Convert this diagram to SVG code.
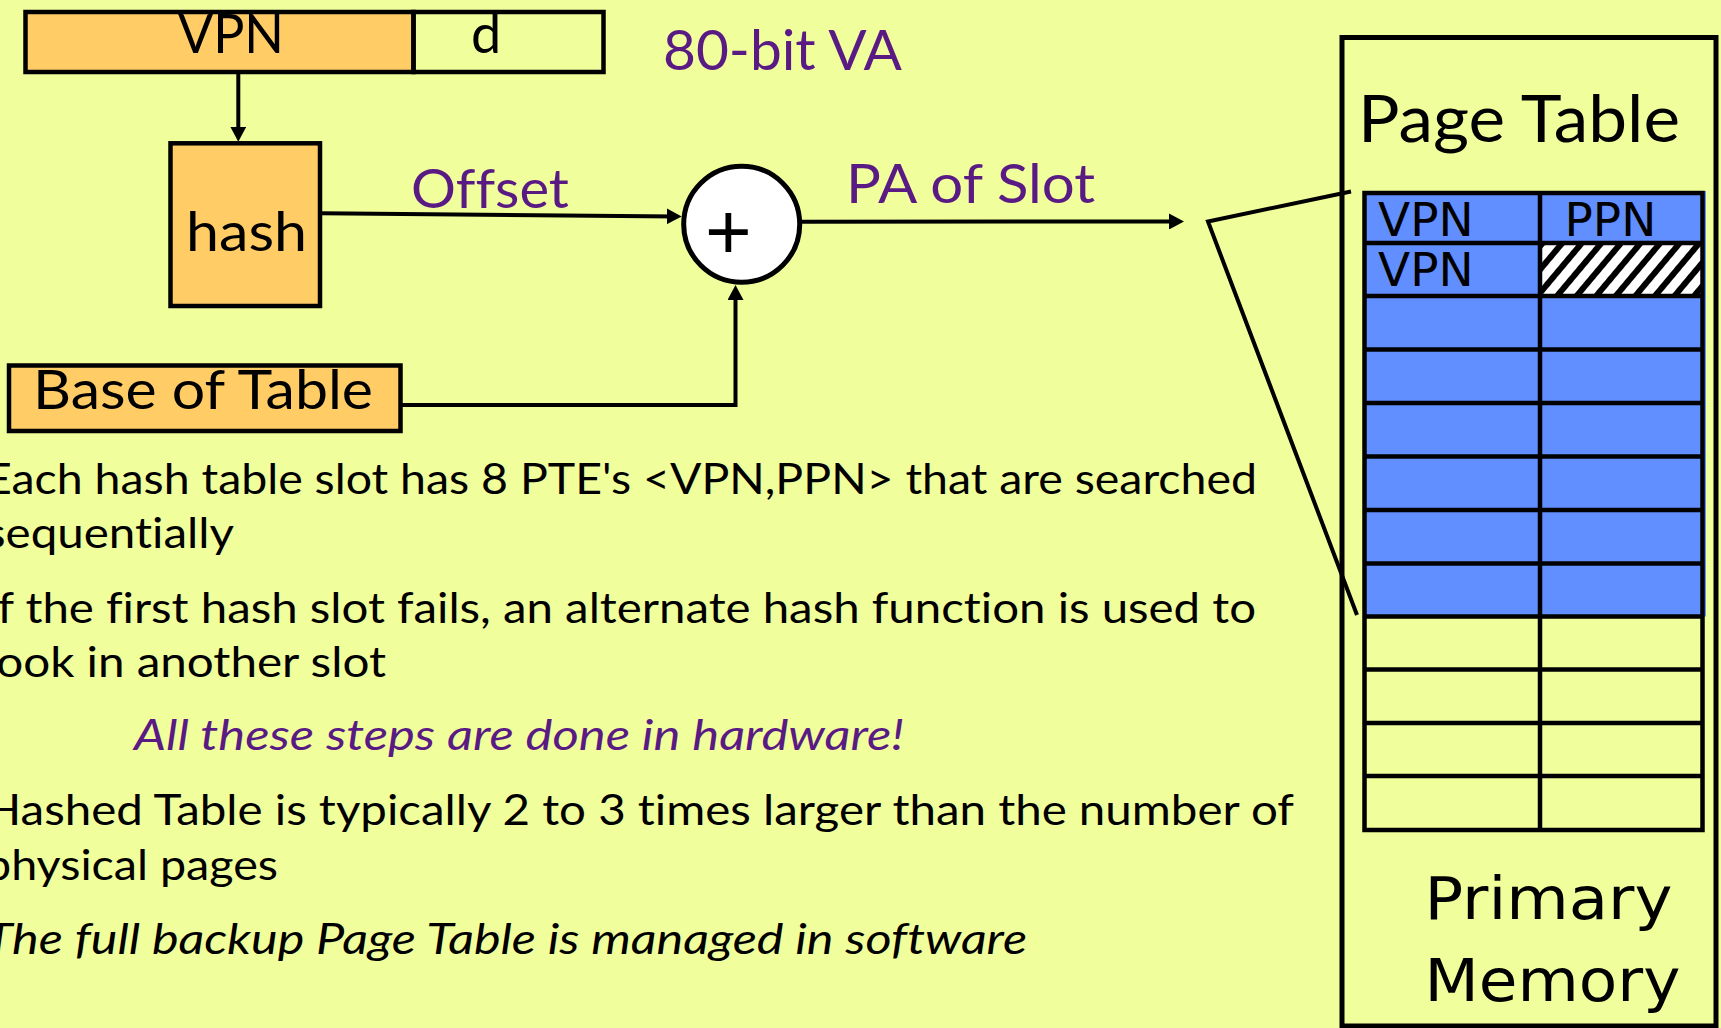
<svg xmlns="http://www.w3.org/2000/svg" width="1721" height="1028" viewBox="0 0 1721 1028">
  <style>
    text { font-variant-ligatures: none; font-feature-settings: "liga" 0, "clig" 0, "dlig" 0; }
    .box { stroke: #000; stroke-width: 4.5; }
    .line { fill: none; stroke: #000; stroke-width: 4; }
    .grid { fill: none; stroke: #000; stroke-width: 4.5; }
    .cal { font-family: Lato, "Open Sans", "Liberation Sans", sans-serif; fill: #000; }
    .body { font-family: Lato, "Open Sans", "Liberation Sans", sans-serif; font-size: 42px; fill: #000; }
    .ver { font-family: "DejaVu Sans", Verdana, sans-serif; fill: #000; }
    .purple { fill: #5A1A84; }
    .ital { font-style: italic; }
  </style>
  <defs>
    <marker id="arrow" markerUnits="userSpaceOnUse" markerWidth="15" markerHeight="16" refX="9" refY="8" orient="auto">
      <path d="M0,0 L15,8 L0,16 z" fill="#000"/>
    </marker>
    <pattern id="hatch" patternUnits="userSpaceOnUse" width="15" height="15" patternTransform="rotate(40)">
      <rect x="0" y="0" width="15" height="15" fill="#fff"/>
      <rect x="0" y="0" width="6" height="15" fill="#000"/>
    </pattern>
  </defs>

  <!-- slide background -->
  <rect x="0" y="0" width="1721" height="1028" fill="#F0FE9C"/>

  <!-- virtual address: VPN | d -->
  <g id="virtual-address">
    <rect class="box" x="25.5" y="12" width="388" height="60" fill="#FFCC66"/>
    <rect class="box" x="413.5" y="12" width="190" height="60" fill="none"/>
    <text class="cal" x="178" y="53.3" font-size="54" textLength="106" lengthAdjust="spacingAndGlyphs">VPN</text>
    <text class="cal" x="471" y="53.3" font-size="54">d</text>
    <text class="cal purple" x="663" y="70" font-size="56" textLength="239" lengthAdjust="spacingAndGlyphs">80-bit VA</text>
  </g>

  <!-- hash function -->
  <g id="hash">
    <rect class="box" x="170.5" y="143.3" width="149.5" height="162.7" fill="#FFCC66"/>
    <text class="cal" x="186" y="250.7" font-size="55" textLength="121" lengthAdjust="spacingAndGlyphs">hash</text>
  </g>

  <!-- base register -->
  <g id="base-of-table">
    <rect class="box" x="9" y="365.5" width="391.5" height="65.5" fill="#FFCC66"/>
    <text class="cal" x="33" y="409.3" font-size="54" textLength="340" lengthAdjust="spacingAndGlyphs">Base of Table</text>
  </g>

  <!-- adder -->
  <g id="adder">
    <circle cx="741.7" cy="224.2" r="58" fill="#fff" stroke="#000" stroke-width="5"/>
    <text x="728.3" y="259" font-family="'Liberation Sans', Arial, sans-serif" font-size="80" text-anchor="middle" fill="#000">+</text>
  </g>

  <!-- connectors -->
  <g id="connectors">
    <path class="line" d="M238.3,72 V135.7" marker-end="url(#arrow)"/>
    <path class="line" d="M321,213.3 L675.7,216.4" marker-end="url(#arrow)"/>
    <path class="line" d="M400.5,405 H735.5 V291" marker-end="url(#arrow)"/>
    <path class="line" d="M800,221.7 L1178,221.5" marker-end="url(#arrow)"/>
    <polyline class="line" stroke-width="4.5" points="1351,191.5 1208,221.5 1357,615"/>
  </g>

  <!-- connector labels -->
  <g id="labels">
    <text class="cal purple" x="411" y="208.3" font-size="54" textLength="158" lengthAdjust="spacingAndGlyphs">Offset</text>
    <text class="cal purple" x="846" y="203.3" font-size="55" textLength="249" lengthAdjust="spacingAndGlyphs">PA of Slot</text>
  </g>

  <!-- primary memory holding the hashed page table -->
  <g id="primary-memory">
    <rect x="1342" y="37.5" width="374" height="988.5" fill="none" stroke="#000" stroke-width="5"/>
    <text class="cal" x="1358" y="141.7" font-size="65" textLength="322" lengthAdjust="spacingAndGlyphs">Page Table</text>
    <text class="ver" x="1424.5" y="919" font-size="58" textLength="248" lengthAdjust="spacingAndGlyphs">Primary</text>
    <text class="ver" x="1424.5" y="1001" font-size="58" textLength="256" lengthAdjust="spacingAndGlyphs">Memory</text>
  </g>

  <g id="page-table">
    <!-- the eight PTEs of the selected slot -->
    <rect x="1364.5" y="191" width="341.5" height="425.5" fill="#628FFF"/>
    <rect x="1540" y="243" width="162.5" height="53" fill="url(#hatch)"/>
    <g class="grid">
      <rect x="1364.5" y="193" width="338" height="637"/>
      <line x1="1540" y1="193" x2="1540" y2="830"/>
      <line x1="1364.5" y1="243" x2="1702.5" y2="243"/>
      <line x1="1364.5" y1="296" x2="1702.5" y2="296"/>
      <line x1="1364.5" y1="349.5" x2="1702.5" y2="349.5"/>
      <line x1="1364.5" y1="403" x2="1702.5" y2="403"/>
      <line x1="1364.5" y1="456.5" x2="1702.5" y2="456.5"/>
      <line x1="1364.5" y1="510" x2="1702.5" y2="510"/>
      <line x1="1364.5" y1="563.5" x2="1702.5" y2="563.5"/>
      <line x1="1364.5" y1="616.5" x2="1702.5" y2="616.5"/>
      <line x1="1364.5" y1="669.5" x2="1702.5" y2="669.5"/>
      <line x1="1364.5" y1="723" x2="1702.5" y2="723"/>
      <line x1="1364.5" y1="776" x2="1702.5" y2="776"/>
    </g>
    <text class="ver" x="1378" y="236" font-size="47">VPN</text>
    <text class="ver" x="1564.5" y="236" font-size="47">PPN</text>
    <text class="ver" x="1378" y="286" font-size="47">VPN</text>
  </g>

  <!-- notes (left edge runs past the frame) -->
  <g id="notes">
    <text class="body" x="-15" y="493.5" textLength="1272" lengthAdjust="spacingAndGlyphs">Each hash table slot has 8 PTE's &lt;VPN,PPN&gt; that are searched</text>
    <text class="body" x="-15" y="548.3" textLength="249" lengthAdjust="spacingAndGlyphs">sequentially</text>
    <text class="body" x="-15" y="622.7" textLength="1271" lengthAdjust="spacingAndGlyphs">If the first hash slot fails, an alternate hash function is used to</text>
    <text class="body" x="-15" y="676.7" textLength="401" lengthAdjust="spacingAndGlyphs">look in another slot</text>
    <text class="body purple ital" x="134" y="750" textLength="770" lengthAdjust="spacingAndGlyphs">All these steps are done in hardware!</text>
    <text class="body" x="-15" y="825" textLength="1309" lengthAdjust="spacingAndGlyphs">Hashed Table is typically 2 to 3 times larger than the number of</text>
    <text class="body" x="-15" y="880" textLength="293" lengthAdjust="spacingAndGlyphs">physical pages</text>
    <text class="body ital" x="-15" y="954" textLength="1042" lengthAdjust="spacingAndGlyphs">The full backup Page Table is managed in software</text>
  </g>
</svg>
